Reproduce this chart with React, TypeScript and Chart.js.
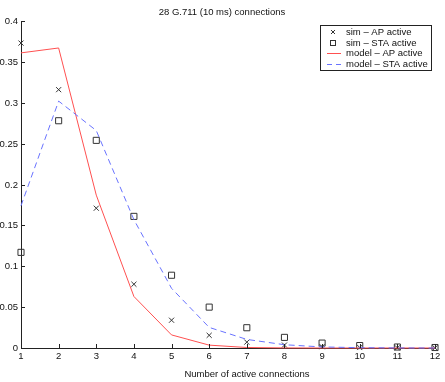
import React, { useEffect, useRef, useState } from "react";
import { Chart, registerables } from "chart.js";

Chart.register(...registerables);

const connections = [1, 2, 3, 4, 5, 6, 7, 8, 9, 10, 11, 12];
const simAP = [0.373, 0.316, 0.171, 0.078, 0.034, 0.0155, 0.0072, 0.0036, 0.0016, 0.0006, 0.0002, 0.0002];
const simSTA = [0.117, 0.278, 0.254, 0.161, 0.089, 0.05, 0.0248, 0.013, 0.006, 0.003, 0.0012, 0.0006];
const modelAP = [0.361, 0.367, 0.187, 0.063, 0.016, 0.0035, 0.0006, 0.0001, 0, 0, 0, 0];
const modelSTA = [0.174, 0.302, 0.266, 0.157, 0.073, 0.0252, 0.0105, 0.004, 0.0013, 0.0004, 0.0001, 0];
const yTicks = [0, 0.05, 0.1, 0.15, 0.2, 0.25, 0.3, 0.35, 0.4];
const yTickLabels = ["0", "0.05", "0.1", "0.15", "0.2", "0.25", "0.3", "0.35", "0.4"];

const titleText = "28 G.711 (10 ms) connections";
const xLabelText = "Number of active connections";
const legendLabels = ["sim \u2013 AP active", "sim \u2013 STA active", "model \u2013 AP active", "model \u2013 STA active"];

const FAMILY = "'Liberation Sans', Arial, Helvetica, sans-serif";
const FONT = "9.5px " + FAMILY;
const RED = "rgb(255,80,80)";
const BLUE = "rgb(105,115,255)";
const MARK = "#333333";

const pts = (vals: number[]) => vals.map((v, i) => ({ x: connections[i], y: v }));

const decorPlugin = {
  id: "decor",
  afterRender(chart: any) {
    const ctx = chart.ctx;
    const area = chart.chartArea;
    const xs = chart.scales.x;
    const ys = chart.scales.y;
    ctx.save();
    ctx.setLineDash([]);

    const bx = 320.5, by = 25.5, bw = 111, bh = 45;
    ctx.fillStyle = "#fff";
    ctx.fillRect(bx, by, bw, bh);
    ctx.strokeStyle = "#222";
    ctx.lineWidth = 1;
    ctx.strokeRect(bx, by, bw, bh);
    const rows = [32, 43, 53, 64];
    const mx = 333;
    ctx.strokeStyle = MARK;
    ctx.beginPath();
    ctx.moveTo(mx - 2, rows[0] - 2);
    ctx.lineTo(mx + 2, rows[0] + 2);
    ctx.moveTo(mx + 2, rows[0] - 2);
    ctx.lineTo(mx - 2, rows[0] + 2);
    ctx.stroke();
    ctx.strokeRect(mx - 2.5, rows[1] - 2.5, 5, 5);
    ctx.strokeStyle = RED;
    ctx.beginPath();
    ctx.moveTo(327, rows[2] + 0.5);
    ctx.lineTo(341, rows[2] + 0.5);
    ctx.stroke();
    ctx.strokeStyle = BLUE;
    ctx.setLineDash([5, 4]);
    ctx.beginPath();
    ctx.moveTo(327, rows[3] + 0.5);
    ctx.lineTo(342, rows[3] + 0.5);
    ctx.stroke();
    ctx.setLineDash([]);
    ctx.font = FONT;
    ctx.textBaseline = "middle";
    ctx.fillStyle = "#111";
    ctx.textAlign = "left";
    legendLabels.forEach((l, i) => ctx.fillText(l, 346, rows[i]));

    ctx.textAlign = "center";
    ctx.fillText(titleText, 222, 12);
    ctx.fillText(xLabelText, 247, 374);

    ctx.strokeStyle = "#222";
    ctx.lineWidth = 1;
    ctx.beginPath();
    connections.forEach((c) => {
      const px = Math.round(xs.getPixelForValue(c)) + 0.5;
      ctx.moveTo(px, area.bottom);
      ctx.lineTo(px, area.bottom - 4);
    });
    yTicks.forEach((t) => {
      const py = Math.round(ys.getPixelForValue(t)) + 0.5;
      ctx.moveTo(area.left, py);
      ctx.lineTo(area.left + 4, py);
    });
    ctx.stroke();
    ctx.restore();
  },
};

type YLabel = { text: string; y: number; right: number };

export default function App() {
  const ref = useRef<HTMLCanvasElement | null>(null);
  const [yLabels, setYLabels] = useState<YLabel[]>([]);
  useEffect(() => {
    if (!ref.current) return;
    const chart = new Chart(ref.current, {
      type: "line",
      data: {
        datasets: [
          {
            label: legendLabels[2],
            data: pts(modelAP),
            borderColor: RED,
            borderWidth: 1,
            pointRadius: 0,
            fill: false,
            tension: 0,
            clip: false,
            order: 1,
          },
          {
            label: legendLabels[3],
            data: pts(modelSTA),
            borderColor: BLUE,
            borderWidth: 1,
            borderDash: [6, 4],
            pointRadius: 0,
            fill: false,
            tension: 0,
            clip: false,
            order: 0,
          },
          {
            label: legendLabels[0],
            data: pts(simAP),
            showLine: false,
            pointStyle: "crossRot",
            pointRadius: 3.6,
            pointBorderColor: MARK,
            pointBorderWidth: 1,
            borderColor: MARK,
            clip: false,
            order: 3,
          },
          {
            label: legendLabels[1],
            data: pts(simSTA),
            showLine: false,
            pointStyle: "rect",
            pointRadius: 4.3,
            pointBorderColor: MARK,
            pointBackgroundColor: "rgba(0,0,0,0)",
            pointBorderWidth: 1,
            borderColor: MARK,
            clip: false,
            order: 2,
          },
        ],
      },
      options: {
        responsive: false,
        animation: false,
        devicePixelRatio: 1,
        layout: { padding: { top: 21, right: 10, left: 0, bottom: 0 } },
        plugins: {
          legend: { display: false },
          title: { display: false },
          tooltip: { enabled: false },
        },
        scales: {
          x: {
            type: "linear",
            min: 1,
            max: 12,
            afterFit: (s: any) => {
              s.height = 34;
            },
            afterBuildTicks: (s: any) => {
              s.ticks = connections.map((c) => ({ value: c }));
            },
            ticks: {
              autoSkip: false,
              maxRotation: 0,
              padding: 3,
              color: "#111",
              font: { family: FAMILY, size: 9.5 },
            },
            grid: { drawOnChartArea: false, drawTicks: false },
            border: { display: true, color: "#222", width: 1 },
          },
          y: {
            type: "linear",
            min: 0,
            max: 0.4,
            afterFit: (s: any) => {
              s.width = 21;
            },
            ticks: { display: false },
            grid: { drawOnChartArea: false, drawTicks: false },
            border: { display: true, color: "#222", width: 1 },
          },
        },
      },
      plugins: [decorPlugin],
    });
    const ys: any = chart.scales.y;
    const left = chart.chartArea.left;
    setYLabels(yTicks.map((t, i) => ({ text: yTickLabels[i], y: ys.getPixelForValue(t), right: 445 - (left - 3) })));
    return () => chart.destroy();
  }, []);
  return (
    <div style={{ position: "absolute", left: 0, top: 0, width: 445, height: 382, background: "#fff" }}>
      <canvas ref={ref} width={445} height={382} style={{ width: 445, height: 382, display: "block" }} />
      {yLabels.map((l) => (
        <span
          key={l.text}
          style={{
            position: "absolute",
            right: l.right,
            top: l.y - 6,
            height: 12,
            lineHeight: "12px",
            fontSize: "9.5px",
            fontFamily: FAMILY,
            color: "#111",
            whiteSpace: "nowrap",
            textAlign: "right",
          }}
        >
          {l.text}
        </span>
      ))}
    </div>
  );
}
